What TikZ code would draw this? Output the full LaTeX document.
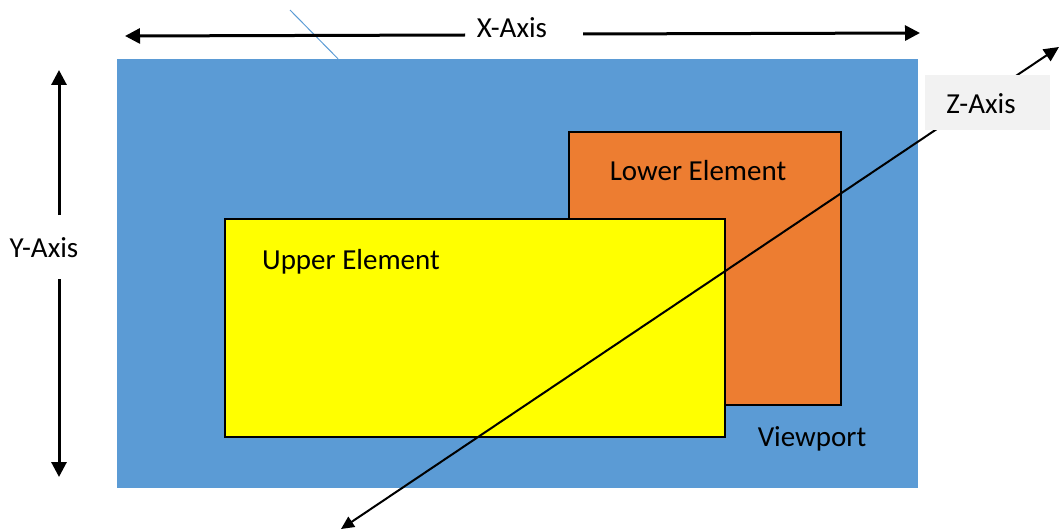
\documentclass[tikz,border=0pt]{standalone}
\usepackage{fontspec}
\setmainfont{Carlito}
\usetikzlibrary{arrows.meta}
\definecolor{viewblue}{HTML}{5B9BD5}
\definecolor{lowerorange}{HTML}{ED7D31}
\definecolor{upperyellow}{HTML}{FFFF00}
\definecolor{tagbg}{HTML}{F2F2F2}
\tikzset{
  panel/.style={draw=black, line width=1.6pt, inner sep=0pt, anchor=center},
  label/.style={font=\fontsize{29}{35}\selectfont, inner sep=0pt},
  axis/.style={line width=3pt, -{Triangle[length=15pt,width=15pt]}},
  depth/.style={line width=2pt, {Triangle[length=15pt,width=14pt]}-{Triangle[length=13pt,width=12pt]}}
}
\begin{document}
\begin{tikzpicture}[x=1pt,y=-1pt]
\useasboundingbox (0,0) rectangle (1059,532);

% viewport background
\node[inner sep=0pt, fill=viewblue, minimum width=801pt, minimum height=429pt] (view) at (517.5,273.5) {};
\draw[viewblue, line width=1pt] (290,10) -- (view.north west -| 338,0);

% stacked elements
\node[panel, fill=lowerorange, minimum width=272pt, minimum height=273pt] (lower) at (705,268.5) {};
\node[panel, fill=upperyellow, minimum width=500pt, minimum height=218pt] (upper) at (475,328) {};

\node[label] (lowerlbl) at (698,171) {Lower Element};
\node[label] (upperlbl) at (351,262) {Upper Element};
\node[label] (viewlbl) at (812,439) {Viewport};

% X axis
\node[label] (xlbl) at (512,28) {X-Axis};
\coordinate (xl0) at (465,35);
\coordinate (xl1) at (125,36);
\coordinate (xr0) at (583,34);
\coordinate (xr1) at (920,33);
\draw[axis] (xl0) -- (xl1);
\draw[axis] (xr0) -- (xr1);

% Y axis
\node[label] (ylbl) at (44,248) {Y-Axis};
\coordinate (yt0) at (59,215);
\coordinate (yt1) at (59,70);
\coordinate (yb0) at (59,279);
\coordinate (yb1) at (59,477);
\draw[axis] (yt0) -- (yt1);
\draw[axis] (yb0) -- (yb1);

% Z axis
\coordinate (zlo) at (341,529);
\coordinate (zhi) at (1059,47);
\draw[depth] (zhi) -- (zlo);
\node[fill=tagbg, minimum width=125pt, minimum height=55pt, inner sep=0pt] (ztag) at (987.5,102.5) {};
\node[label] (zlbl) at (981,104) {Z-Axis};
\end{tikzpicture}
\end{document}
